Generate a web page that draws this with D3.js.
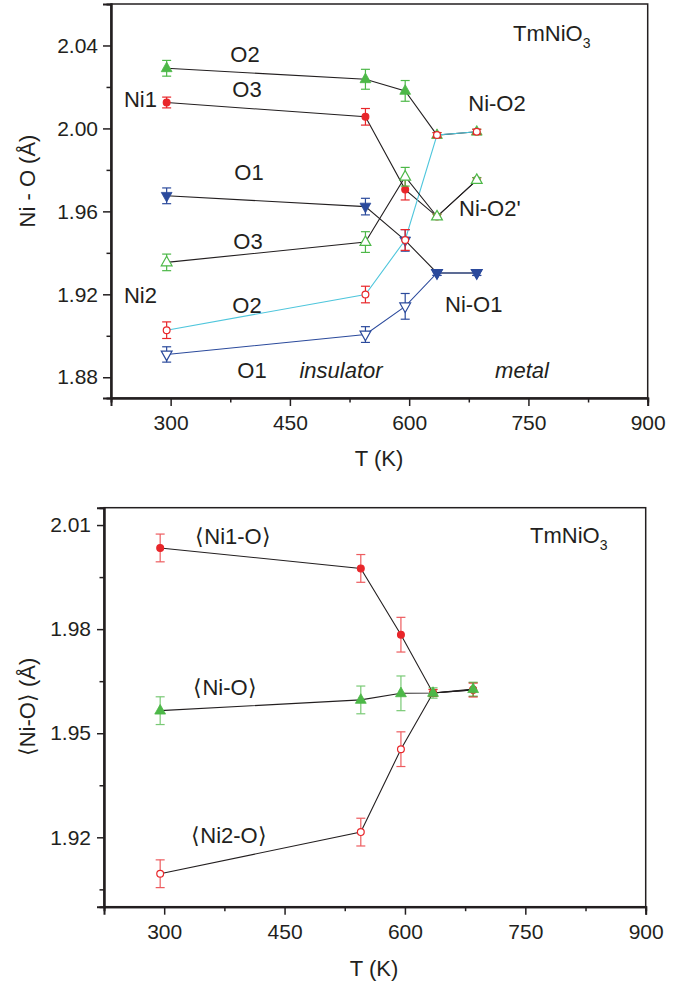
<!DOCTYPE html>
<html><head><meta charset="utf-8">
<script src="https://cdn.jsdelivr.net/npm/d3@7"></script>
<style>
body{margin:0;background:#fff;}
text{font-family:"Liberation Sans",Arial,sans-serif;fill:#231f20;}
</style></head>
<body>
<svg id="c" width="681" height="986"></svg>
<script>
// ---------- data ----------
const temps = [295, 545, 595, 635, 685];

// top panel: individual Ni-O bond lengths (Å)
const ni1O2 = [2.0290, 2.0237, 2.0181, 1.9968, 1.9984];
const ni1O2Err = [0.0038, 0.0048, 0.0050, 0.0012, 0.0012];
const ni1O3 = [2.0125, 2.0056, 1.9705, 1.9575, 1.9751];
const ni1O3Err = [0.0026, 0.0040, 0.0050, 0.0012, 0.0012];
const ni1O1 = [1.9675, 1.9623, 1.9460, 1.9303, 1.9303];
const ni1O1Err = [0.0038, 0.0040, 0.0052, 0.0012, 0.0012];
const ni2O3 = [1.9354, 1.9452, 1.9767, 1.9575, 1.9751];
const ni2O3Err = [0.0040, 0.0050, 0.0045, 0.0012, 0.0012];
const ni2O2 = [1.9027, 1.9199, 1.9462, 1.9968, 1.9984];
const ni2O2Err = [0.0040, 0.0040, 0.0050, 0.0012, 0.0012];
const ni2O1 = [1.8910, 1.9006, 1.9142, 1.9303, 1.9303];
const ni2O1Err = [0.0037, 0.0038, 0.0062, 0.0012, 0.0012];

// bottom panel: average bond lengths (Å)
const ni1Avg = [2.0034, 1.9975, 1.9784, 1.9616, 1.9625];
const ni1AvgErr = [0.0040, 0.0040, 0.0050, 0.0010, 0.0020];
const niAvg = [1.9565, 1.9596, 1.9615, 1.9616, 1.9627];
const niAvgErr = [0.0040, 0.0040, 0.0050, 0.0015, 0.0020];
const ni2Avg = [1.9095, 1.9215, 1.9454, 1.9616, 1.9625];
const ni2AvgErr = [0.0040, 0.0040, 0.0050, 0.0010, 0.0020];

const xTicks = [300, 450, 600, 750, 900];
const xMinor = [375, 525, 675, 825];
const yTicksTop = [1.88, 1.92, 1.96, 2.00, 2.04];
const yMinorTop = [1.90, 1.94, 1.98, 2.02];
const yTicksBot = [1.92, 1.95, 1.98, 2.01];
const yMinorBot = [1.905, 1.935, 1.965, 1.995];

const GREEN = "#4db848", RED = "#e8262a", BLUE = "#2b4a9c", CYAN = "#4fc6dc", INK = "#231f20";

const svg = d3.select("#c");

function marker(g, shape, x, y, color) {
  const up = "M0,-6.2L5.4,3.4L-5.4,3.4Z", down = "M0,6.2L5.4,-3.4L-5.4,-3.4Z";
  if (shape === "circle" || shape === "openCircle") {
    g.append("circle").attr("cx", x).attr("cy", y).attr("r", 3.4)
      .attr("fill", shape === "circle" ? color : "#fff")
      .attr("stroke", color).attr("stroke-width", 1.2);
  } else if (shape === "triUp" || shape === "triDown") {
    g.append("path").attr("d", shape === "triUp" ? up : down).attr("transform", `translate(${x},${y})`)
      .attr("fill", color).attr("stroke", color).attr("stroke-width", 0.8);
  } else {
    g.append("path").attr("d", shape === "openTriUp" ? up : down).attr("transform", `translate(${x},${y})`)
      .attr("fill", "#fff").attr("stroke", color).attr("stroke-width", 1.2);
  }
}

function panel(opt) {
  const {left, top, right, bottom, yDomain, yTicks, yMinor} = opt;
  const x = d3.scaleLinear().domain([225, 900]).range([left, right]);
  const y = d3.scaleLinear().domain(yDomain).range([bottom, top]);
  const g = svg.append("g");
  g.append("rect").attr("x", left).attr("y", top).attr("width", right - left).attr("height", bottom - top)
    .attr("fill", "none").attr("stroke", INK).attr("stroke-width", 1.5);
  g.append("g").attr("transform", `translate(0,${bottom})`)
    .call(d3.axisBottom(x).tickValues(xTicks).tickSize(8).tickPadding(opt.xPad).tickFormat(d3.format("d")));
  g.append("g").attr("transform", `translate(0,${bottom})`)
    .call(d3.axisBottom(x).tickValues(xMinor).tickSize(4.5).tickFormat(""));
  g.append("g").attr("transform", `translate(${left},0)`)
    .call(d3.axisLeft(y).tickValues(yTicks).tickSize(opt.yTick).tickPadding(opt.yPad).tickFormat(d3.format(".2f")));
  g.append("g").attr("transform", `translate(${left},0)`)
    .call(d3.axisLeft(y).tickValues(yMinor).tickSize(4.5).tickFormat(""));
  g.selectAll(".domain").attr("stroke", INK).attr("stroke-width", 2);
  g.selectAll(".tick line").attr("stroke", INK).attr("stroke-width", 1.5);
  g.selectAll(".tick text").attr("font-size", 21).attr("fill", INK)
    .attr("font-family", '"Liberation Sans",Arial,sans-serif');
  return {g, x, y};
}

function series(P, vals, errs, shape, color, lineColor, errOpacity, layer, raiseLine) {
  const pts = temps.map((t, i) => ({t, v: vals[i], e: errs[i]}));
  const line = d3.line().x(d => P.x(d.t)).y(d => P.y(d.v));
  if (lineColor) {
    const p = layer.lines.append("path").datum(pts).attr("d", line)
      .attr("fill", "none").attr("stroke", lineColor).attr("stroke-width", 1.1);
    if (raiseLine) p.classed("raise", true);
  }
  const eg = layer.marks.append("g").attr("stroke", color).attr("stroke-width", 1.2).attr("opacity", errOpacity);
  pts.forEach(d => {
    const cx = P.x(d.t), y1 = P.y(d.v + d.e), y2 = P.y(d.v - d.e);
    eg.append("line").attr("x1", cx).attr("x2", cx).attr("y1", y1).attr("y2", y2);
    eg.append("line").attr("x1", cx - 4.5).attr("x2", cx + 4.5).attr("y1", y1).attr("y2", y1);
    eg.append("line").attr("x1", cx - 4.5).attr("x2", cx + 4.5).attr("y1", y2).attr("y2", y2);
  });
  const mg = layer.marks.append("g");
  pts.forEach(d => marker(mg, shape, P.x(d.t), P.y(d.v), color));
}

function label(txt, x, y, anchor, opts = {}) {
  const t = svg.append("text").attr("x", x).attr("y", y).attr("text-anchor", anchor || "middle")
    .attr("font-size", opts.size || 22);
  if (opts.italic) t.attr("font-style", "italic");
  t.text(txt);
  return t;
}

// ---------- top panel ----------
const T = panel({left: 111, top: 4, right: 647.7, bottom: 398, yDomain: [1.87, 2.06],
  yTicks: yTicksTop, yMinor: yMinorTop, xPad: 9, yTick: 8, yPad: 5});
const topLayer = {lines: T.g.append("g"), marks: T.g.append("g")};
series(T, ni1O2, ni1O2Err, "triUp", GREEN, INK, 1, topLayer);
series(T, ni1O3, ni1O3Err, "circle", RED, INK, 1, topLayer);
series(T, ni2O1, ni2O1Err, "openTriDown", BLUE, BLUE, 1, topLayer, true);
series(T, ni1O1, ni1O1Err, "triDown", BLUE, INK, 1, topLayer);
series(T, ni2O2, ni2O2Err, "openCircle", RED, CYAN, 1, topLayer);
series(T, ni2O3, ni2O3Err, "openTriUp", GREEN, INK, 1, topLayer);
topLayer.lines.selectAll(".raise").raise();

label("O2", 245, 62);
label("O3", 247, 97);
label("Ni1", 157, 107, "end");
label("O1", 249, 180);
label("O3", 248, 249);
label("Ni2", 157, 303, "end");
label("O2", 247, 313);
label("O1", 252, 378);
label("insulator", 341, 378, "middle", {italic: true});
label("metal", 522, 378, "middle", {italic: true});
label("Ni-O2", 497, 111);
label("Ni-O2'", 459, 216, "start");
label("Ni-O1", 445, 312, "start");
{
  const t = label("TmNiO", 513, 41, "start");
  t.append("tspan").attr("font-size", 14).attr("dy", 7).text("3");
}
label("T (K)", 379, 466);
svg.append("text").attr("transform", "translate(35,181) rotate(-90)").attr("text-anchor", "middle")
  .attr("font-size", 22).text("Ni - O (Å)");

// ---------- bottom panel ----------
const B = panel({left: 104, top: 507.7, right: 645.7, bottom: 906.7, yDomain: [1.90, 2.015],
  yTicks: yTicksBot, yMinor: yMinorBot, xPad: 9, yTick: 7, yPad: 6});
const botLayer = {lines: B.g.append("g"), marks: B.g.append("g")};
series(B, ni2Avg, ni2AvgErr, "openCircle", RED, INK, 0.75, botLayer);
series(B, ni1Avg, ni1AvgErr, "circle", RED, INK, 0.75, botLayer);
series(B, niAvg, niAvgErr, "triUp", GREEN, INK, 0.75, botLayer);

label("⟨Ni1-O⟩", 233, 544);
label("⟨Ni-O⟩", 225, 695);
label("⟨Ni2-O⟩", 229, 843);
{
  const t = label("TmNiO", 530, 543, "start");
  t.append("tspan").attr("font-size", 14).attr("dy", 7).text("3");
}
label("T (K)", 374, 976);
svg.append("text").attr("transform", "translate(35,707) rotate(-90)").attr("text-anchor", "middle")
  .attr("font-size", 22).text("⟨Ni-O⟩ (Å)");
</script>
</body></html>
